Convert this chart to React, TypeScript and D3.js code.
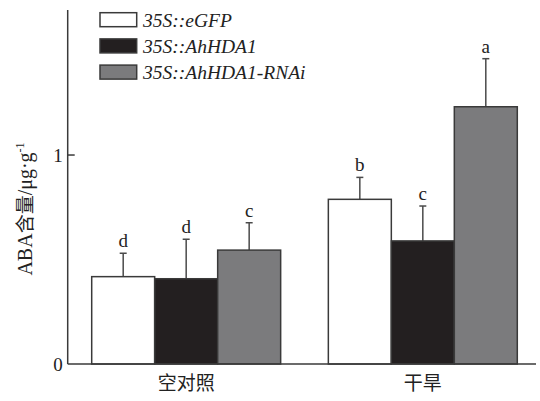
import React from "react";
import * as d3 from "d3";

const groups = ["空对照", "干旱"];
const series = ["35S::eGFP", "35S::AhHDA1", "35S::AhHDA1-RNAi"];
const means = [
  [0.418, 0.408, 0.545],
  [0.788, 0.589, 1.231],
];
const errTops = [
  [0.53, 0.597, 0.676],
  [0.893, 0.756, 1.461],
];
const letters = [
  ["d", "d", "c"],
  ["b", "c", "a"],
];
const yTicks = [0, 1];
const fills = ["#ffffff", "#231f20", "#7b7b7d"];

const W = 540;
const H = 401;
const serif = "'Liberation Serif', 'Times New Roman', serif";
const cjk = "'Noto Sans CJK SC', sans-serif";

export default function App() {
  const y = d3.scaleLinear().domain([0, 1.694]).range([364, 10]);
  const x0 = d3.scaleBand<string>().domain(groups).range([91.7, 517.3]).paddingInner(0.2015).paddingOuter(0);
  const x1 = d3.scaleBand<string>().domain(series).range([0, x0.bandwidth()]).padding(0);
  const axisX = 67.7;

  return (
    <svg width={W} height={H} style={{ position: "absolute", left: 0, top: 0, background: "#fff" }}>
      {groups.map((g, gi) =>
        series.map((s, si) => {
          const bx = (x0(g) as number) + (x1(s) as number);
          const bw = x1.bandwidth();
          const cx = bx + bw / 2;
          const top = y(means[gi][si]);
          const et = y(errTops[gi][si]);
          return (
            <g key={g + s}>
              <line x1={cx} x2={cx} y1={top} y2={et} stroke="#4a4a4a" strokeWidth={1.5} />
              <line x1={cx - 3.5} x2={cx + 3.5} y1={et} y2={et} stroke="#4a4a4a" strokeWidth={1.5} />
              <text x={cx} y={et - 6} textAnchor="middle" fontFamily={serif} fontSize={19} fill="#222">
                {letters[gi][si]}
              </text>
              <rect x={bx} y={top} width={bw} height={y(0) - top} fill={fills[si]} stroke="#3a3a3a" strokeWidth={1.5} />
            </g>
          );
        })
      )}
      <line x1={axisX} x2={axisX} y1={y.range()[1]} y2={y(0)} stroke="#3a3a3a" strokeWidth={1.5} />
      <line x1={axisX} x2={536} y1={y(0)} y2={y(0)} stroke="#3a3a3a" strokeWidth={1.5} />
      {yTicks.map((t) => (
        <g key={t}>
          {t !== 0 && <line x1={axisX} x2={axisX + 7} y1={y(t)} y2={y(t)} stroke="#3a3a3a" strokeWidth={1.5} />}
          <text x={axisX - 5} y={y(t) + 6.5} textAnchor="end" fontFamily={serif} fontSize={19} fill="#222">
            {t}
          </text>
        </g>
      ))}
      {groups.map((g) => (
        <text key={g} x={(x0(g) as number) + x0.bandwidth() / 2} y={390} textAnchor="middle" fontFamily={cjk} fontSize={19} fill="#222">
          {g}
        </text>
      ))}
      <text transform={`translate(32,209) rotate(-90)`} textAnchor="middle" fontFamily={serif} fontSize={20} fill="#222">
        ABA<tspan fontFamily={cjk} fontSize={19}>含量</tspan>/μg·g<tspan fontSize={12} dy={-8}>-1</tspan>
      </text>
      {series.map((s, si) => (
        <g key={s}>
          <rect x={100} y={12.7 + si * 26.2} width={36.7} height={14} fill={fills[si]} stroke="#3a3a3a" strokeWidth={1.5} />
          <text x={143} y={26.5 + si * 26.2} fontFamily={serif} fontStyle="italic" fontSize={19.5} fill="#222">
            {s}
          </text>
        </g>
      ))}
    </svg>
  );
}
